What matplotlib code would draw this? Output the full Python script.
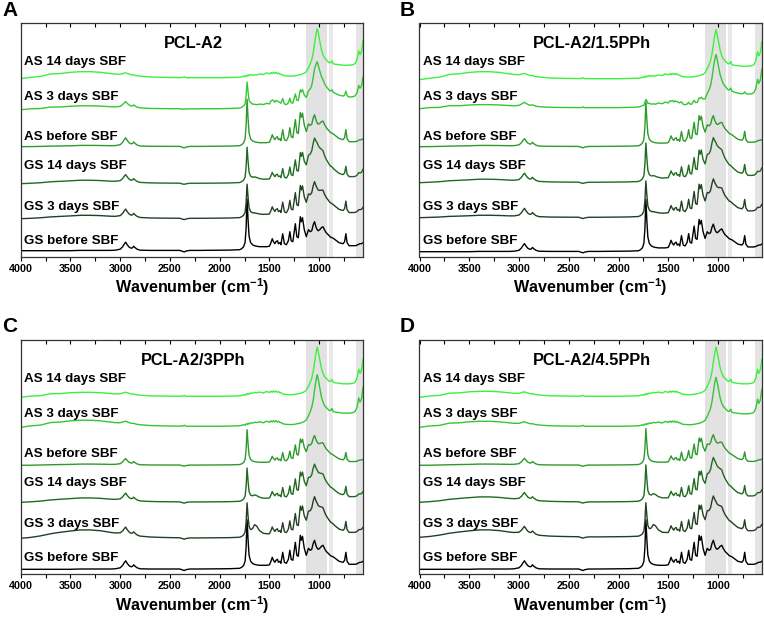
import numpy as np
import matplotlib.pyplot as plt

plt.rcParams['font.family'] = ['Liberation Sans', 'DejaVu Sans']
plt.rcParams['font.weight'] = 'bold'
plt.rcParams['mathtext.fontset'] = 'custom'
plt.rcParams['mathtext.rm'] = 'Liberation Sans:bold'
plt.rcParams['mathtext.bf'] = 'Liberation Sans:bold'

wavenumber = [4000, 3900, 3800, 3700, 3600, 3500, 3400, 3300, 3200, 3100,
              3050, 3000, 2975, 2960, 2945, 2930, 2910, 2890, 2875, 2865,
              2850, 2830, 2800, 2700, 2600, 2500, 2400, 2370, 2355, 2340,
              2300, 2200, 2100, 2000, 1900, 1800, 1780, 1760, 1745, 1735,
              1725, 1715, 1705, 1690, 1670, 1650, 1630, 1600, 1560, 1530,
              1500, 1485, 1472, 1460, 1445, 1435, 1420, 1410, 1395, 1385,
              1367, 1350, 1330, 1310, 1295, 1282, 1265, 1240, 1225, 1210,
              1190, 1180, 1168, 1150, 1130, 1108, 1090, 1075, 1060, 1047,
              1030, 1020, 1010, 995, 978, 962, 948, 930, 900, 885,
              872, 860, 840, 800, 760, 745, 732, 720, 700, 660,
              640, 620, 603, 590, 575, 560]

# PCL absorption (no carbonyl peak), GS before SBF of panel A
pcl_band = [0, 0, 0, 0, 0, 0, 0.3, 0.3, 0.3, 0.3,
            0.5, 1.5, 4, 6.5, 8.5, 6, 3.5, 2.5, 3, 4.5,
            3, 1.5, 0.5, 0.3, 0.3, 0.3, 0.3, -0.8, -1.2, -0.4,
            0.3, 0.3, 0.4, 0.5, 0.6, 1, 1.5, 2, 2.5, 3,
            3.5, 4, 4, 4, 4, 4, 4, 4, 4, 4,
            4.5, 8, 12, 9, 7, 9, 10, 7, 8, 6,
            17, 7, 6, 10, 19, 10, 9, 27, 14, 13,
            34, 29, 33, 21, 14, 21, 19, 20, 26, 29,
            23, 21, 20, 21, 23, 24, 21, 18, 15, 13.5,
            13, 12.5, 11, 8, 7, 9, 17, 8, 5, 5,
            5, 5.5, 6.5, 7, 7, 8]

# C=O stretch at ~1725
carbonyl_band = ([0] * 36 + [0.01, 0.04, 0.12, 0.4, 1.0, 0.55, 0.22, 0.09, 0.04, 0.02, 0.01]
                 + [0] * 59)

# broad Si-O band ~1050
silica_band = ([0] * 67 + [0.02, 0.04, 0.06,
                           0.1, 0.13, 0.17, 0.25, 0.4, 0.6, 0.75, 0.87, 0.96, 1.0,
                           0.97, 0.92, 0.85, 0.75, 0.65, 0.55, 0.47, 0.38, 0.25, 0.2,
                           0.16, 0.13, 0.09, 0.05, 0.03, 0.02, 0.02, 0.01, 0.01, 0,
                           0, 0, 0, 0, 0, 0])

# apatite layer, AS 14 days SBF of panel A
apatite_band = [0, 0.8, 0.4, 1.4, 0.7, 1, 1, 1, 1, 1,
                1, 1.5, 2.5, 3, 3.5, 3, 2.5, 2, 2, 2.2,
                1.8, 1.5, 1.3, 1, 1, 1, 1, 1.2, 2, 1,
                1, 1, 1, 1, 1.2, 1.5, 1.8, 2.6, 2.0, 3.4,
                2.6, 3.8, 3.0, 4.2, 3.4, 4.0, 3.6, 4.8, 4.2, 5.8,
                4.8, 6.2, 5.0, 6.4, 5.2, 6.2, 5.0, 5.8, 4.5, 4.6,
                3.5, 3, 2.8, 2.7, 2.6, 2.6, 2.7, 3, 3.3, 3.6,
                4, 4.3, 4.8, 5.5, 7, 11, 15, 19, 26, 35,
                46, 50, 46, 38, 29, 24, 21, 19, 16, 16,
                18, 15, 14.5, 14, 13.5, 13.5, 13.5, 13.5, 13.5, 14,
                15, 19, 28, 24, 27, 38]

# O-H stretch hump
water_band = ([0, 0.1, 0.3, 0.55, 0.75, 0.9, 1, 1, 0.9, 0.7,
               0.6, 0.5, 0.45, 0.42, 0.4, 0.38, 0.35, 0.32, 0.3, 0.28,
               0.26, 0.23, 0.2, 0.12, 0.07, 0.04, 0.02, 0.01, 0, 0]
              + [0] * 76)

# bump just below the carbonyl peak (~1650)
bend_band = ([0] * 40 + [0, 0.05, 0.1, 0.2, 0.5, 1.0, 0.9, 0.4, 0.1, 0.05]
             + [0] * 56)

trace_labels = ['GS before SBF', 'GS 3 days SBF', 'GS 14 days SBF',
                'AS before SBF', 'AS 3 days SBF', 'AS 14 days SBF']
panel_titles = ['PCL-A2', 'PCL-A2/1.5PPh', 'PCL-A2/3PPh', 'PCL-A2/4.5PPh']
panel_letters = ['A', 'B', 'C', 'D']

# weights of each band per panel (rows) and per trace (columns)
pcl_weight = [[1.0, 0.95, 0.85, 1.0, 0.5, 0],
              [0.95, 0.95, 0.9, 0.9, 0.2, 0],
              [1.0, 0.9, 0.85, 0.75, 0, 0],
              [1.0, 0.9, 0.85, 0.78, 0, 0]]
carbonyl_weight = [[48, 31, 33, 44, 24, 0],
                   [49, 33, 36, 42, 6, 0],
                   [46, 32, 31, 33, 0, 0],
                   [46, 31, 34, 34, 0, 0]]
silica_weight = [[0, 6, 14, 3, 0, 0],
                 [0, 6, 12, 5, 0, 0],
                 [0, 12, 10, 8, 0, 0],
                 [0, 10, 15, 8, 0, 0]]
apatite_weight = [[0, 0.1, 0.2, 0, 0.75, 1.0],
                  [0, 0.15, 0.2, 0, 1.0, 1.0],
                  [0, 0.1, 0.1, 0, 1.05, 1.0],
                  [0, 0.15, 0.15, 0, 1.0, 1.0]]
water_weight = [[0, 3, 3, 1, 3, 6],
                [0, 2, 3, 1, 3, 7],
                [0, 8, 4, 1, 6, 4],
                [0, 7, 5, 1, 5, 5]]
bend_weight = [[0, 1, 2, 0, 0, 0],
               [0, 1, 2, 0, 0, 0],
               [0, 9, 3, 0, 1, 1],
               [0, 8, 4, 0, 1, 1]]
stack_offset = [[6, 38, 73, 110, 147, 178],
                [5, 39, 74, 110, 148, 177],
                [5, 36, 72, 109, 147, 177],
                [5, 37, 72, 109, 147, 177]]

colors = ['#000000', '#243f24', '#1f6a1f', '#2c9b2c', '#35c635', '#3ef03e']
label_y = [16, 50, 91, 120, 160, 195]
shaded = [(1128, 920, '#e2e2e2'), (898, 860, '#e9e9e9'), (632, 560, '#e4e4e4')]

W, H = 764, 624
fig = plt.figure(figsize=(W / 100, H / 100), dpi=100)
ax_px = [(20.7, 256.7), (419.5, 256.7), (20.7, 574.3), (419.5, 574.3)]
letter_px = [(2, 11), (400, 11), (2, 326), (400, 326)]

x = np.array(wavenumber)
bands = [np.array(pcl_band), np.array(carbonyl_band), np.array(silica_band),
         np.array(apatite_band), np.array(water_band), np.array(bend_band)]

for p in range(4):
    left, bottom = ax_px[p]
    ax = fig.add_axes([left / W, 1 - bottom / H, 342.3 / W, 234 / H])
    for lo, hi, c in shaded:
        ax.axvspan(lo, hi, color=c, lw=0, zorder=0)
    for i in range(6):
        w = [pcl_weight[p][i], carbonyl_weight[p][i], silica_weight[p][i],
             apatite_weight[p][i], water_weight[p][i], bend_weight[p][i]]
        y = stack_offset[p][i] + sum(wi * b for wi, b in zip(w, bands))
        ax.plot(x, y, color=colors[i], lw=1.0, zorder=2)
        ax.text(0.01, label_y[i], trace_labels[i], transform=ax.get_yaxis_transform(),
                fontsize=9.6, fontweight='bold', va='center', ha='left')
    ax.text(0.505, 0.913, panel_titles[p], transform=ax.transAxes,
            fontsize=11.8, fontweight='bold', ha='center', va='center')
    ax.set_xlim(4000, 560)
    ax.set_ylim(0, 234)
    ax.set_yticks([])
    ax.set_xticks(np.arange(4000, 999, -500))
    ax.set_xticks(np.arange(3750, 560, -500), minor=True)
    ax.tick_params(axis='x', which='both', direction='out', length=3, width=0.8,
                   labelsize=7.7, pad=2)
    for lab in ax.get_xticklabels():
        lab.set_fontweight('bold')
    top = ax.secondary_xaxis('top')
    top.set_xticks(np.arange(4000, 999, -500))
    top.set_xticks(np.arange(3750, 560, -500), minor=True)
    top.tick_params(axis='x', which='both', direction='in', length=3, width=0.8,
                    labeltop=False)
    top.spines['top'].set_visible(False)
    for s in ax.spines.values():
        s.set_linewidth(0.9)
        s.set_color('#333333')
    ax.set_xlabel(r'Wavenumber (cm$^{\mathbf{-1}}$)', fontsize=11.6, fontweight='bold',
                  labelpad=2)
    lx, ly = letter_px[p]
    fig.text(lx / W, 1 - ly / H, panel_letters[p], fontsize=15, fontweight='bold',
             ha='left', va='center')

fig.savefig('out.png', dpi=100)
